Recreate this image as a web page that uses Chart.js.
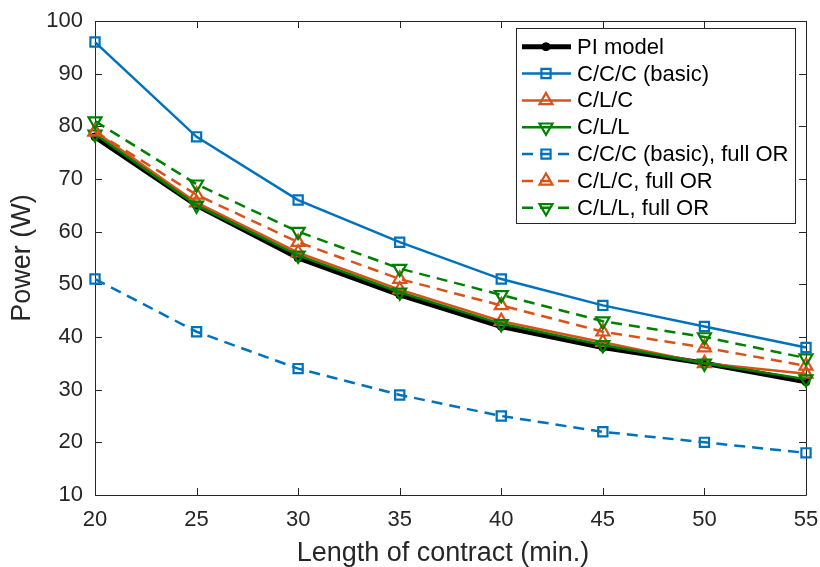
<!DOCTYPE html>
<html>
<head>
<meta charset="utf-8">
<script src="https://cdn.jsdelivr.net/npm/chart.js@4/dist/chart.umd.min.js"></script>
<style>
  html, body { margin: 0; padding: 0; background: #fff; }
  #wrap { width: 820px; height: 567px; }
</style>
</head>
<body>
<div id="wrap"><canvas id="powerChart" width="820" height="567"></canvas></div>
<script>
// ---- data ----
const contractLength = [20, 25, 30, 35, 40, 45, 50, 55];
const piModel      = [78, 65, 55, 48, 42, 38, 35, 31.5];
const cccBasic     = [96, 78, 66, 58, 51, 46, 42, 38];
const clc          = [79, 65.5, 56, 49, 43, 39, 35, 33];
const cll          = [78.5, 65, 55.5, 48.5, 42.5, 38.5, 35, 32];
const cccBasicFull = [51, 41, 34, 29, 25, 22, 20, 18];
const clcFull      = [79, 67, 58, 51, 46, 41, 38, 34.5];
const cllFull      = [81, 69, 60, 53, 48, 43, 40, 36];
const seriesNames  = ["PI model", "C/C/C (basic)", "C/L/C", "C/L/L",
                      "C/C/C (basic), full OR", "C/L/C, full OR", "C/L/L, full OR"];
const yTicks = [10, 20, 30, 40, 50, 60, 70, 80, 90, 100];
const xTitle = 'Length of contract (min.)';
const yTitle = 'Power (W)';

const BLUE = '#0072BD', ORANGE = '#D95319', GREEN = '#008000', INK = '#262626';
const FONT = '"Liberation Sans", Arial, Helvetica, sans-serif';
const DASH = [11, 7];

function toPoints(vals) {
  return vals.map((v, i) => ({ x: contractLength[i], y: v }));
}

function makeSet(label, vals, color, opts) {
  return Object.assign({
    label: label,
    data: toPoints(vals),
    borderColor: color,
    backgroundColor: 'rgba(0,0,0,0)',
    pointBorderColor: color,
    pointBackgroundColor: 'rgba(0,0,0,0)',
    borderWidth: 2.5,
    pointBorderWidth: 2.2,
    tension: 0,
    clip: false
  }, opts);
}

const datasets = [
  makeSet(seriesNames[0], piModel, '#000', { borderWidth: 5, pointStyle: 'circle', pointRadius: 4, pointBackgroundColor: '#000', pointBorderWidth: 1 }),
  makeSet(seriesNames[1], cccBasic, BLUE, { pointStyle: 'rect', pointRadius: 6.5 }),
  makeSet(seriesNames[2], clc, ORANGE, { pointStyle: 'triangle', pointRadius: 7.5 }),
  makeSet(seriesNames[3], cll, GREEN, { pointStyle: 'triangle', pointRotation: 180, pointRadius: 7.5 }),
  makeSet(seriesNames[4], cccBasicFull, BLUE, { pointStyle: 'rect', pointRadius: 6.5, borderDash: DASH }),
  makeSet(seriesNames[5], clcFull, ORANGE, { pointStyle: 'triangle', pointRadius: 7.5, borderDash: DASH }),
  makeSet(seriesNames[6], cllFull, GREEN, { pointStyle: 'triangle', pointRotation: 180, pointRadius: 7.5, borderDash: DASH })
];
// later series on top, like the original plot
datasets.forEach((d, i) => { d.order = datasets.length - i; });

// draw a marker the same way for the legend
function drawMarker(ctx, ds, x, y) {
  const r = ds.pointRadius;
  ctx.save();
  ctx.lineWidth = ds.pointBorderWidth;
  ctx.strokeStyle = ds.pointBorderColor;
  ctx.fillStyle = ds.pointBackgroundColor;
  ctx.setLineDash([]);
  ctx.beginPath();
  if (ds.pointStyle === 'circle') {
    ctx.arc(x, y, r, 0, Math.PI * 2);
  } else if (ds.pointStyle === 'rect') {
    const s = Math.SQRT1_2 * r;
    ctx.rect(x - s, y - s, 2 * s, 2 * s);
  } else {
    const dir = ds.pointRotation === 180 ? -1 : 1;
    const w = r * Math.sqrt(3) / 2;
    ctx.moveTo(x, y - dir * r);
    ctx.lineTo(x - w, y + dir * r / 2);
    ctx.lineTo(x + w, y + dir * r / 2);
    ctx.closePath();
  }
  ctx.fill();
  ctx.stroke();
  ctx.restore();
}

// axes box with inward ticks (all four sides) + x title
const axesBox = {
  id: 'axesBox',
  beforeDatasetsDraw(chart) {
    const { ctx, chartArea: a, scales: { x, y } } = chart;
    ctx.save();
    ctx.strokeStyle = INK;
    ctx.lineWidth = 1;
    ctx.beginPath();
    ctx.rect(a.left + 0.5, a.top + 0.5, a.right - a.left, a.bottom - a.top);
    ctx.stroke();
    const tl = 7;
    ctx.beginPath();
    contractLength.forEach(v => {
      const px = Math.round(x.getPixelForValue(v)) + 0.5;
      ctx.moveTo(px, a.bottom); ctx.lineTo(px, a.bottom - tl);
      ctx.moveTo(px, a.top); ctx.lineTo(px, a.top + tl);
    });
    yTicks.forEach(v => {
      const py = Math.round(y.getPixelForValue(v)) + 0.5;
      ctx.moveTo(a.left, py); ctx.lineTo(a.left + tl, py);
      ctx.moveTo(a.right, py); ctx.lineTo(a.right - tl, py);
    });
    ctx.stroke();

    // x axis title (sits a little left of the axis centre in the original)
    ctx.fillStyle = INK;
    ctx.font = '27px ' + FONT;
    ctx.textAlign = 'center';
    ctx.textBaseline = 'middle';
    ctx.fillText(xTitle, 443, 553.5);
    ctx.restore();
  }
};

// legend box in the top right corner
const boxLegend = {
  id: 'boxLegend',
  afterDraw(chart) {
    const ctx = chart.ctx;
    const bx = 516, by = 28, bw = 279, bh = 195;
    ctx.save();
    ctx.fillStyle = '#fff';
    ctx.fillRect(bx, by, bw, bh);
    ctx.strokeStyle = INK;
    ctx.lineWidth = 1;
    ctx.strokeRect(bx + 0.5, by + 0.5, bw, bh);
    datasets.forEach((ds, i) => {
      const yy = 46.7 + i * 26.85;
      ctx.save();
      ctx.strokeStyle = ds.borderColor;
      ctx.lineWidth = ds.borderWidth;
      ctx.setLineDash(ds.borderDash || []);
      ctx.beginPath();
      ctx.moveTo(522, yy);
      ctx.lineTo(571, yy);
      ctx.stroke();
      ctx.restore();
      drawMarker(ctx, ds, 546, yy);
      ctx.fillStyle = '#000';
      ctx.font = '22px ' + FONT;
      ctx.textBaseline = 'middle';
      ctx.fillText(ds.label, 577, yy + 1);
    });
    ctx.restore();
  }
};

new Chart(document.getElementById('powerChart'), {
  type: 'line',
  data: { datasets: datasets },
  options: {
    responsive: false,
    animation: false,
    devicePixelRatio: 1,
    layout: { padding: { top: 21, right: 14, left: 0, bottom: 0 } },
    plugins: { legend: { display: false }, tooltip: { enabled: false } },
    scales: {
      x: {
        type: 'linear',
        min: 20, max: 55,
        afterFit: s => { s.height = 72; s.paddingLeft = 0; s.paddingRight = 0; },
        grid: { display: false, drawTicks: false },
        border: { display: false },
        ticks: { stepSize: 5, padding: 12, color: INK, font: { family: FONT, size: 22 } },
        title: { display: false }
      },
      y: {
        type: 'linear',
        min: 10, max: 100,
        afterFit: s => { s.width = 95; s.paddingTop = 0; s.paddingBottom = 0; },
        grid: { display: false, drawTicks: false },
        border: { display: false },
        ticks: { stepSize: 10, padding: 12, color: INK, font: { family: FONT, size: 22 } },
        title: { display: true, text: yTitle, color: INK,
                 font: { family: FONT, size: 27, lineHeight: 1 }, padding: { top: 9, bottom: 0 } }
      }
    }
  },
  plugins: [axesBox, boxLegend]
});
</script>
</body>
</html>
